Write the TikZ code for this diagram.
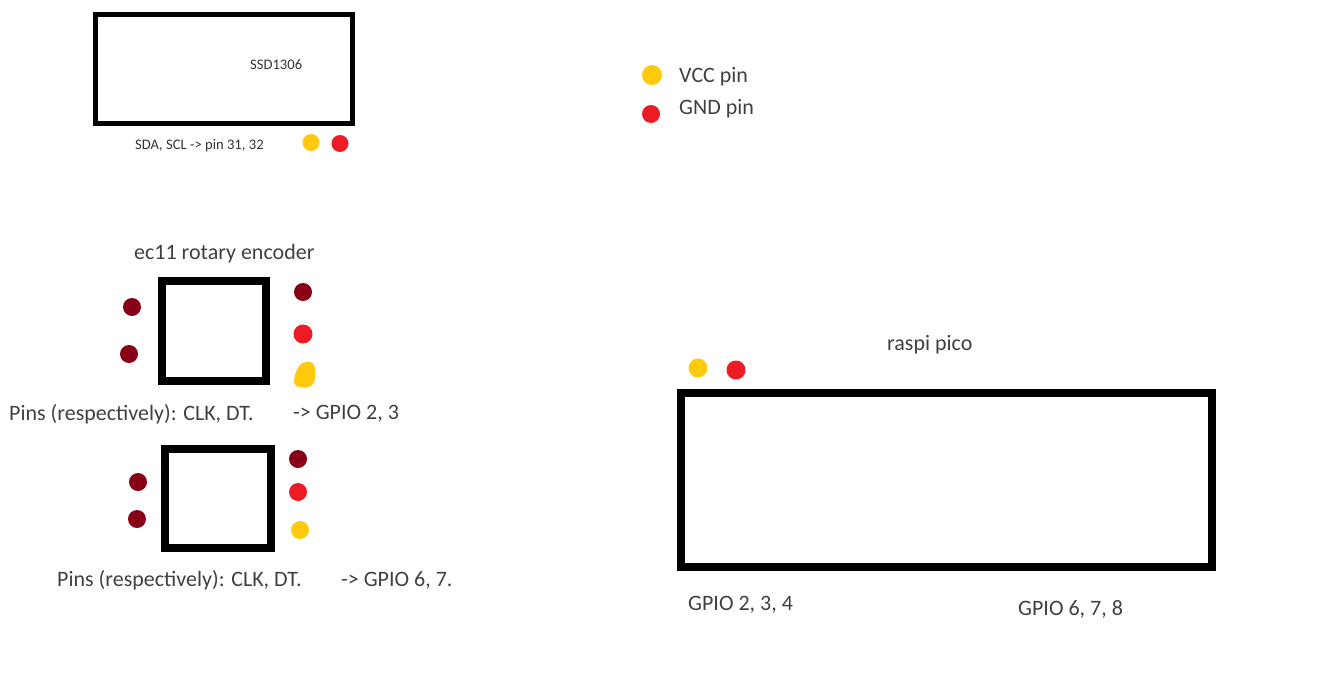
\documentclass[tikz,border=0pt]{standalone}
\usepackage{fontspec}
\setmainfont{Carlito}
\definecolor{vccc}{HTML}{FFC90E}
\definecolor{gndc}{HTML}{ED1C24}
\definecolor{sigc}{HTML}{880015}
\tikzset{
  x=1pt,y=-1pt,
  box/.style={draw=black,line width=8pt,fill=none,inner sep=0pt,outer sep=0pt,anchor=north west},
  lbl/.style={inner sep=0pt,anchor=west,text=black!75,font=\fontsize{22}{24}\selectfont},
  small/.style={inner sep=0pt,anchor=west,text=black!80,font=\fontsize{14.6}{16}\selectfont},
  pin/.style={circle,inner sep=0pt,minimum size=#1},
  vcc/.style={pin=#1,fill=vccc},
  gnd/.style={pin=#1,fill=gndc},
  sig/.style={pin=#1,fill=sigc},
}
\begin{document}
\begin{tikzpicture}
\useasboundingbox (0,0) rectangle (1333,688);
\node[box,line width=4.8pt,minimum width=257pt,minimum height=109pt] (ssd) at (95.5,14.5) {};
\node[small] (ssdt) at (250,65) {SSD1306};
\node[small] (ssdp) at (135,146) {SDA, SCL -> pin 31, 32};
\node[vcc=17pt] (v1) at (311,142.5) {};
\node[gnd=17pt] (g1) at (340,143.5) {};
\node[vcc=20pt] (lv) at (652,75) {};
\node[gnd=18pt] (lg) at (651,114) {};
\node[lbl] (lvt) at (679,76.5) {VCC pin};
\node[lbl] (lgt) at (679,108.5) {GND pin};
\node[lbl] (ect) at (134,253.5) {ec11 rotary encoder};
\node[box,minimum width=104pt,minimum height=100pt] (e1) at (162,281) {};
\node[sig=18pt] (a1) at (132,307) {};
\node[sig=18pt] (a2) at (129,354) {};
\node[sig=18pt] (a3) at (303,292) {};
\node[gnd=19pt] (a4) at (303,334) {};
\fill[vccc] (300,365) .. controls (303,361) and (314,359.5) .. (315,368) .. controls (316,376) and (316,387) .. (306,387.5) .. controls (298,388) and (293,386) .. (294,380) .. controls (295,373) and (297,369) .. (300,365) -- cycle;
\node[lbl] (e1t) at (9,414) {Pins (respectively): CLK, DT.};
\node[lbl] (e1u) at (293,414) {-> GPIO 2, 3};
\node[box,minimum width=106pt,minimum height=98.5pt] (e2) at (165,449) {};
\node[sig=18pt] (b1) at (138,482) {};
\node[sig=18pt] (b2) at (137,519) {};
\node[sig=18pt] (b3) at (298,459) {};
\node[gnd=18pt] (b4) at (298,492) {};
\node[vcc=18pt] (b5) at (300,530) {};
\node[lbl] (e2t) at (57,580) {Pins (respectively): CLK, DT.};
\node[lbl] (e2u) at (341,580) {-> GPIO 6, 7.};
\node[lbl] (pt) at (887,344.5) {raspi pico};
\node[vcc=19pt] (pv) at (698,368) {};
\node[gnd=19pt] (pg) at (736,370) {};
\node[box,minimum width=531pt,minimum height=174pt] (pico) at (681,393) {};
\node[lbl] (p1) at (688,605) {GPIO 2, 3, 4};
\node[lbl] (p2) at (1018,609) {GPIO 6, 7, 8};
\end{tikzpicture}
\end{document}
